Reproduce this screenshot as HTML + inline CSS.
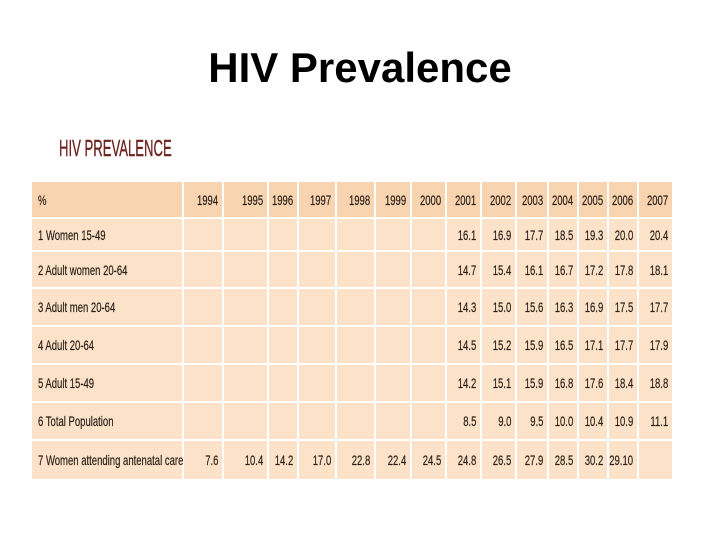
<!DOCTYPE html>
<html><head><meta charset="utf-8"><style>
body{margin:0;width:720px;height:540px;background:#fff;position:relative;overflow:hidden;font-family:"Liberation Sans",sans-serif}
#title{position:absolute;left:0;width:720px;top:43px;text-align:center;font-size:42px;font-weight:bold;color:#000;line-height:50px}
#sub{position:absolute;left:59px;top:135px;font-size:23px;color:#6e2420;transform:scaleX(0.57);transform-origin:left top;-webkit-text-stroke:0.4px #6e2420}
#tbl{position:absolute;left:0;top:0}
.c{position:absolute;box-sizing:border-box;font-size:14px;color:#2a1f17;white-space:nowrap;display:flex;align-items:center;-webkit-text-stroke:0.2px #2a1f17}
.c span{display:inline-block;transform:scaleX(0.68)}
</style></head><body>
<div id="title">HIV Prevalence</div>
<div id="sub">HIV PREVALENCE</div>
<div id="tbl"></div>
<script>
const years=["1994","1995","1996","1997","1998","1999","2000","2001","2002","2003","2004","2005","2006","2007"];
const rowLabels=["1 Women 15-49","2 Adult women 20-64","3 Adult men 20-64","4 Adult 20-64","5 Adult 15-49","6 Total Population","7 Women attending antenatal care"];
const r1=["","","","","","","","16.1","16.9","17.7","18.5","19.3","20.0","20.4"];
const r2=["","","","","","","","14.7","15.4","16.1","16.7","17.2","17.8","18.1"];
const r3=["","","","","","","","14.3","15.0","15.6","16.3","16.9","17.5","17.7"];
const r4=["","","","","","","","14.5","15.2","15.9","16.5","17.1","17.7","17.9"];
const r5=["","","","","","","","14.2","15.1","15.9","16.8","17.6","18.4","18.8"];
const r6=["","","","","","","","8.5","9.0","9.5","10.0","10.4","10.9","11.1"];
const r7=["7.6","10.4","14.2","17.0","22.8","22.4","24.5","24.8","26.5","27.9","28.5","30.2","29.10",""];
const rows=[r1,r2,r3,r4,r5,r6,r7];
const colX=[32,184,224,269,299,337,376,412,447,482,517,549,579,609,639,674];
const rowY=[182,219,252,289,327,365,403,441,481];
const t=document.getElementById('tbl');
function cell(x0,x1,y0,y1,txt,bg,right,name){
  const d=document.createElement('div');
  d.className='c';
  
  
  d.style.left=x0+'px';d.style.top=y0+'px';
  d.style.width=(x1-x0-2)+'px';d.style.height=(y1-y0-2)+'px';
  d.style.background=bg;
  d.style.justifyContent=right?'flex-end':'flex-start';
  d.style.padding=right?'0 4px 0 0':'0 0 0 6px';
  const s=document.createElement('span');
  s.style.transformOrigin=right?'right center':'left center';
  s.textContent=txt;d.appendChild(s);t.appendChild(d);
}
const hbg='#f9d4b0',bbg='#fbe2c9';
cell(colX[0],colX[1],rowY[0],rowY[1],'%',hbg,false,'header-percent');
years.forEach((y,i)=>cell(colX[i+1],colX[i+2],rowY[0],rowY[1],y,hbg,true,'header-'+y));
rows.forEach((r,ri)=>{
  cell(colX[0],colX[1],rowY[ri+1],rowY[ri+2],rowLabels[ri],bbg,false,'row-label-'+(ri+1));
  r.forEach((v,ci)=>cell(colX[ci+1],colX[ci+2],rowY[ri+1],rowY[ri+2],v,bbg,true,'cell-r'+(ri+1)+'-'+years[ci]));
});
</script>
</body></html>
